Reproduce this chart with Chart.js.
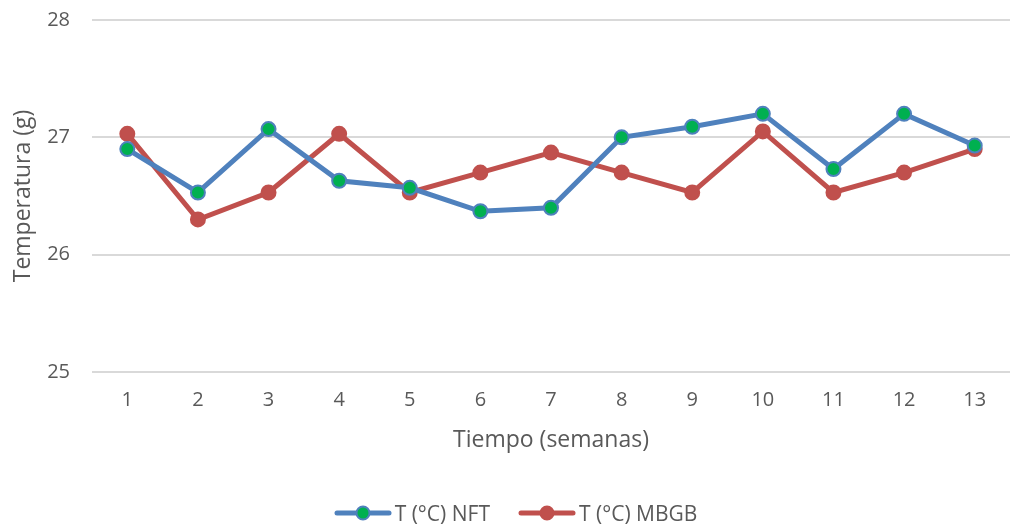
<!DOCTYPE html>
<html>
<head>
<meta charset="utf-8">
<script src="https://cdn.jsdelivr.net/npm/chart.js@4.4.0/dist/chart.umd.min.js"></script>
<style>
  html, body { margin: 0; padding: 0; background: #fff; }
  #wrap { position: relative; width: 1019px; height: 530px; }
  #legend {
    position: absolute; left: 12px; right: 0; top: 499px; height: 28px;
    display: flex; justify-content: center; align-items: center;
    font-family: "Open Sans", Lato, sans-serif; font-size: 21px; color: #595959;
  }
  #legend .item { display: flex; align-items: center; margin: 0 14px; }
  #legend canvas { margin-right: 3px; }
</style>
</head>
<body>
<div id="wrap">
  <canvas id="myChart" width="1019" height="530"></canvas>
  <div id="legend"></div>
</div>
<script>
var weeks = ['1', '2', '3', '4', '5', '6', '7', '8', '9', '10', '11', '12', '13'];
var tempNFT = [26.90, 26.53, 27.07, 26.63, 26.57, 26.37, 26.40, 27.00, 27.09, 27.20, 26.73, 27.20, 26.93];
var tempMBGB = [27.03, 26.30, 26.53, 27.03, 26.53, 26.70, 26.87, 26.70, 26.53, 27.05, 26.53, 26.70, 26.90];
var yTicks = [25, 26, 27, 28];

var FONT = '"Open Sans", Lato, sans-serif';
var GREY = '#595959';

// little line + dot picture for the legend
function legendIcon(line, fill) {
  var c = document.createElement('canvas');
  c.width = 58; c.height = 18;
  var g = c.getContext('2d');
  g.strokeStyle = line; g.lineWidth = 5; g.lineCap = 'round';
  g.beginPath(); g.moveTo(3, 9); g.lineTo(55, 9); g.stroke();
  g.beginPath(); g.arc(29, 9, 6.5, 0, Math.PI * 2);
  g.fillStyle = fill; g.fill();
  g.lineWidth = 2; g.strokeStyle = line; g.stroke();
  return c;
}

var ctx = document.getElementById('myChart').getContext('2d');
var myChart = new Chart(ctx, {
  type: 'line',
  data: {
    labels: weeks,
    datasets: [{
      label: 'T (°C) NFT',
      data: tempNFT,
      borderColor: '#4F81BD',
      borderWidth: 5,
      pointRadius: 7,
      pointBorderWidth: 2,
      pointBackgroundColor: '#00B050',
      pointBorderColor: '#4F81BD',
      tension: 0
    }, {
      label: 'T (°C) MBGB',
      data: tempMBGB,
      borderColor: '#C0504D',
      borderWidth: 5,
      pointRadius: 7,
      pointBorderWidth: 2,
      pointBackgroundColor: '#C0504D',
      pointBorderColor: '#C0504D',
      tension: 0
    }]
  },
  options: {
    responsive: false,
    animation: false,
    layout: { padding: { top: 20, right: 0, left: 0, bottom: 58 } },
    scales: {
      x: {
        offset: true,
        grid: { display: false, drawTicks: false },
        border: { display: false },
        ticks: { color: GREY, font: { family: FONT, size: 20 }, padding: 16 },
        title: { display: true, text: 'Tiempo (semanas)', color: GREY, font: { family: FONT, size: 23 }, padding: { top: 10, bottom: 18 } },
        afterFit: function (s) { s.height = 100; }
      },
      y: {
        min: 25,
        max: 28,
        afterBuildTicks: function (s) { s.ticks = yTicks.map(function (v) { return { value: v }; }); },
        grid: { color: '#D9D9D9', lineWidth: 2, drawTicks: false },
        border: { display: false },
        ticks: { color: GREY, font: { family: FONT, size: 20 }, padding: 22 },
        title: { display: true, text: 'Temperatura (g)', color: GREY, font: { family: FONT, size: 23 }, padding: { top: 10, bottom: 2 } },
        afterFit: function (s) { s.width = 92; s.paddingTop = 0; s.paddingBottom = 0; }
      }
    },
    plugins: {
      legend: { display: false },
      tooltip: { enabled: false }
    }
  }
});

// legend under the chart, built from the datasets
var legendEl = document.getElementById('legend');
myChart.data.datasets.forEach(function (ds) {
  var item = document.createElement('div');
  item.className = 'item';
  item.appendChild(legendIcon(ds.borderColor, ds.pointBackgroundColor));
  var txt = document.createElement('span');
  txt.textContent = ds.label;
  item.appendChild(txt);
  legendEl.appendChild(item);
});
</script>
</body>
</html>
